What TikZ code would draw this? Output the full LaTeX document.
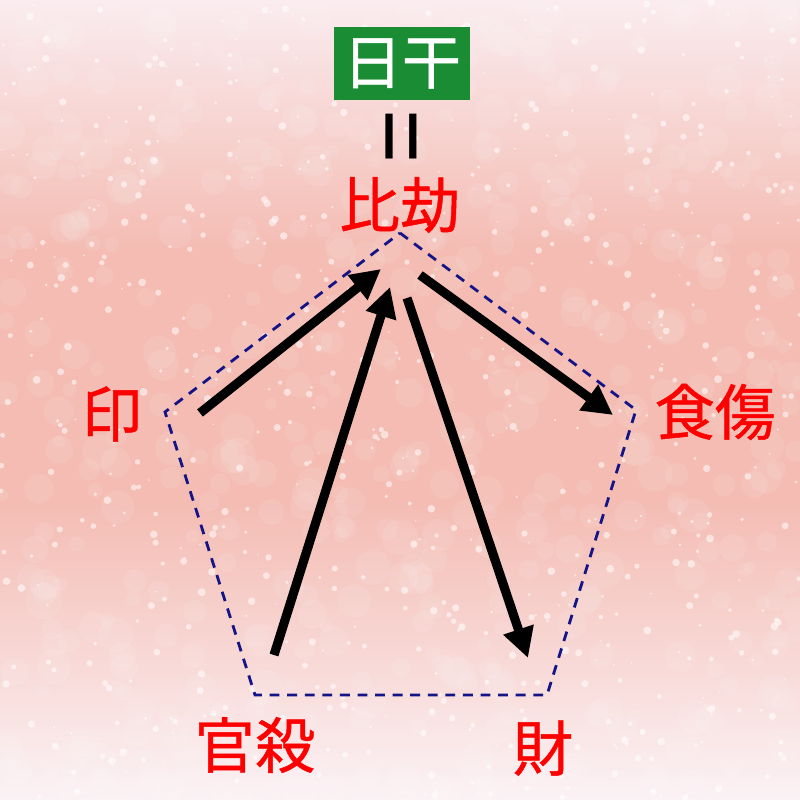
\documentclass[tikz,border=0pt]{standalone}
\usepackage{fontspec}
\usepackage{tikz}
\usetikzlibrary{arrows.meta}
\newfontfamily\jpfont[FakeBold=0.8]{Noto Sans CJK JP}
\newfontfamily\jpplain{Noto Sans CJK JP}

\definecolor{bgtop}{RGB}{250,236,239}
\definecolor{bgband}{RGB}{244,188,179}
\definecolor{bgbot}{RGB}{251,242,245}
\definecolor{daygreen}{RGB}{26,140,52}
\definecolor{pentblue}{RGB}{20,20,135}

\begin{document}
\begin{tikzpicture}[
    godo/.style={text=red, inner sep=0pt, font=\jpfont\fontsize{43}{43}\selectfont},
    daybox/.style={fill=daygreen, text=white, inner sep=0pt, minimum width=3.4cm, minimum height=1.825cm, font=\jpfont\fontsize{42}{42}\selectfont},
    pentedge/.style={draw=pentblue, line width=2pt, dash pattern=on 7pt off 5.5pt},
    flow/.style={line width=6.5pt, -{Triangle[length=0.75cm,width=0.75cm]}}
  ]
        \useasboundingbox (0,0) rectangle (20,20);

        % Background
        \shade[top color=bgtop, bottom color=bgband] (0,13.75) rectangle (20,20);
        \fill[bgband] (0,7.5) rectangle (20,13.75);
        \shade[top color=bgband, bottom color=bgbot] (0,0) rectangle (20,7.5);
        \pgfmathsetseed{42}
        \foreach \i in {1,...,500}{
          \pgfmathsetmacro{\sx}{20*rnd}
          \pgfmathsetmacro{\sy}{20*rnd}
          \pgfmathsetmacro{\sr}{0.15+0.3*rnd}
          \fill[white, opacity=0.09] (\sx,\sy) circle (\sr);
        }
        \foreach \i in {1,...,700}{
          \pgfmathsetmacro{\sx}{20*rnd}
          \pgfmathsetmacro{\sy}{20*rnd}
          \pgfmathsetmacro{\sr}{0.02+0.08*rnd}
          \fill[white, opacity=0.55] (\sx,\sy) circle (\sr);
        }

        % Pentagon corners
        \coordinate (top) at (10,14.175);
        \coordinate (left) at (4.125,9.7);
        \coordinate (right) at (15.9,9.75);
        \coordinate (botleft) at (6.375,2.625);
        \coordinate (botright) at (13.675,2.625);
        \draw[pentedge] (top) -- (right) -- (botright) -- (botleft) -- (left) -- cycle;

        % Labels
        \node[daybox] (nikkan) at (10.05,18.41) {日干};
        \node[inner sep=0pt, rotate=90, font=\jpplain\fontsize{44}{44}\selectfont] (equal) at (10.33,16.575) {\scalebox{1}[1.7]{＝}};
        \node[godo] (hikou) at (10,14.875) {比劫};
        \node[godo] (inju) at (2.8,9.65) {印};
        \node[godo] (shokushou) at (17.875,9.7) {食傷};
        \node[godo] (kansatsu) at (6.375,1.375) {官殺};
        \node[godo] (zai) at (13.575,1.3) {財};

        % Arrow ends
        \coordinate (in-s) at (5.0,9.675);
        \coordinate (in-e) at (9.525,13.275);
        \coordinate (ks-s) at (6.85,3.625);
        \coordinate (ks-e) at (9.75,12.825);
        \coordinate (zai-s) at (10.175,12.55);
        \coordinate (zai-e) at (13.2,3.55);
        \coordinate (ss-s) at (10.5,13.125);
        \coordinate (ss-e) at (15.325,9.625);

        % Directed edges
        \draw[flow] (in-s) -- (in-e);
        \draw[flow] (ks-s) -- (ks-e);
        \draw[flow] (zai-s) -- (zai-e);
        \draw[flow] (ss-s) -- (ss-e);
\end{tikzpicture}
\end{document}
